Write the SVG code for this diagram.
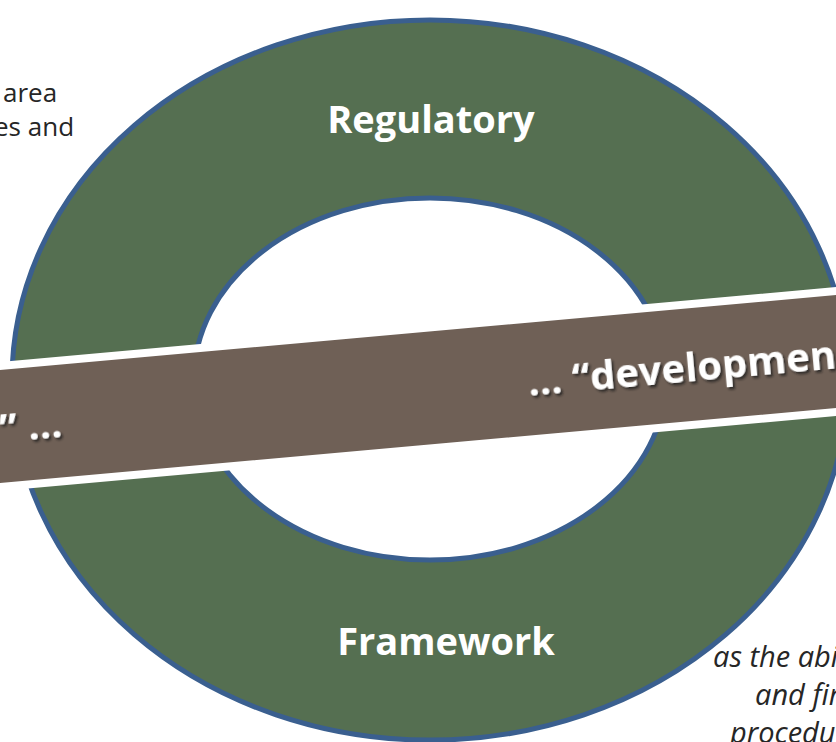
<svg xmlns="http://www.w3.org/2000/svg" width="836" height="742" viewBox="0 0 836 742">
<defs>
<style>
.ring{fill:#556F51;stroke:#3A5F8F;stroke-width:5;fill-rule:evenodd}
.band{fill:#6F6056;stroke:#FFFFFF;stroke-width:8}
.title{font-family:"Open Sans","Liberation Sans",sans-serif;font-weight:700;font-size:38px;fill:#FFFFFF;text-anchor:middle}
.bandtxt{font-family:"Open Sans","Liberation Sans",sans-serif;font-weight:700;font-size:40px;fill:#FFFFFF}
.side{font-family:"Open Sans","Liberation Sans",sans-serif;font-size:26px;fill:#262626}
.ital{font-family:"Open Sans","Liberation Sans",sans-serif;font-style:italic;font-size:29px;fill:#262626}
</style>
<filter id="sh" x="-10%" y="-30%" width="120%" height="160%">
<feDropShadow dx="2" dy="2.5" stdDeviation="1.2" flood-color="#1E1E1E" flood-opacity="0.75"/>
</filter>
</defs>
<rect width="836" height="742" fill="#FFFFFF"/>
<g id="side-text-left">
<text class="side" x="3" y="102">area</text>
<text class="side" x="-6" y="136">es and</text>
</g>
<g id="ring">
<path class="ring" d="M 12 380 A 418 360 0 1 0 848 380 A 418 360 0 1 0 12 380 Z M 194 379 A 236 181 0 1 0 666 379 A 236 181 0 1 0 194 379 Z"/>
<text class="title" x="431" y="133">Regulatory</text>
<text class="title" x="446" y="655">Framework</text>
</g>
<g id="band">
<polygon class="band" points="-60,371.4 900,285.3 900,406.3 -60,492.4"/>
<text class="bandtxt" filter="url(#sh)" x="63" y="437" text-anchor="end" transform="rotate(-5.13 63 437)">” …</text>
<text class="bandtxt" filter="url(#sh)" x="529" y="396" transform="rotate(-5.13 529 396)">… “developmen</text>
</g>
<g id="side-text-right">
<text class="ital" x="713" y="667">as the abi</text>
<text class="ital" x="755" y="705">and fir</text>
<text class="ital" x="730" y="743">procedu</text>
</g>
</svg>
